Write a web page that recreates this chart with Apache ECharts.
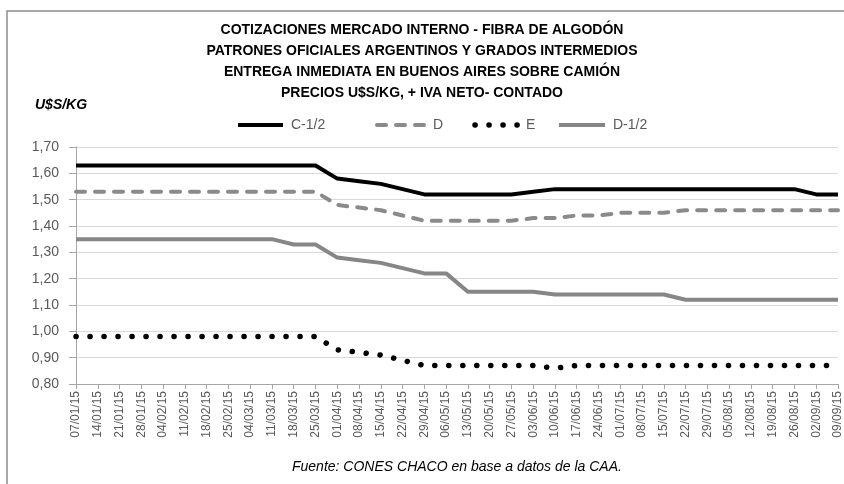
<!DOCTYPE html>
<html>
<head>
<meta charset="utf-8">
<script src="https://cdn.jsdelivr.net/npm/echarts@6/dist/echarts.min.js"></script>
<style>
html,body{margin:0;padding:0;background:#fff;}
#chart{width:844px;height:484px;}
</style>
</head>
<body>
<div id="chart"></div>
<script>
var dates = ['07/01/15','14/01/15','21/01/15','28/01/15','04/02/15','11/02/15','18/02/15','25/02/15','04/03/15','11/03/15','18/03/15','25/03/15','01/04/15','08/04/15','15/04/15','22/04/15','29/04/15','06/05/15','13/05/15','20/05/15','27/05/15','03/06/15','10/06/15','17/06/15','24/06/15','01/07/15','08/07/15','15/07/15','22/07/15','29/07/15','05/08/15','12/08/15','19/08/15','26/08/15','02/09/15','09/09/15'];
var c12 = [1.63,1.63,1.63,1.63,1.63,1.63,1.63,1.63,1.63,1.63,1.63,1.63,1.58,1.57,1.56,1.54,1.52,1.52,1.52,1.52,1.52,1.53,1.54,1.54,1.54,1.54,1.54,1.54,1.54,1.54,1.54,1.54,1.54,1.54,1.52,1.52];
var d = [1.53,1.53,1.53,1.53,1.53,1.53,1.53,1.53,1.53,1.53,1.53,1.53,1.48,1.47,1.46,1.44,1.42,1.42,1.42,1.42,1.42,1.43,1.43,1.44,1.44,1.45,1.45,1.45,1.46,1.46,1.46,1.46,1.46,1.46,1.46,1.46];
var e = [0.98,0.98,0.98,0.98,0.98,0.98,0.98,0.98,0.98,0.98,0.98,0.98,0.93,0.92,0.91,0.89,0.87,0.87,0.87,0.87,0.87,0.87,0.86,0.87,0.87,0.87,0.87,0.87,0.87,0.87,0.87,0.87,0.87,0.87,0.87,0.87];
var d12 = [1.35,1.35,1.35,1.35,1.35,1.35,1.35,1.35,1.35,1.35,1.33,1.33,1.28,1.27,1.26,1.24,1.22,1.22,1.15,1.15,1.15,1.15,1.14,1.14,1.14,1.14,1.14,1.14,1.12,1.12,1.12,1.12,1.12,1.12,1.12,1.12];
var seriesNames = ['C-1/2','D','E','D-1/2'];
var titleLines = ['COTIZACIONES MERCADO INTERNO - FIBRA DE ALGODÓN','PATRONES OFICIALES ARGENTINOS Y GRADOS INTERMEDIOS','ENTREGA INMEDIATA EN BUENOS AIRES SOBRE CAMIÓN','PRECIOS U$S/KG, + IVA NETO- CONTADO'];
var unitLabel = 'U$S/KG';
var sourceText = 'Fuente: CONES CHACO en base a datos de la CAA.';

var FONT = '"Liberation Sans", Arial, sans-serif';
var chart = echarts.init(document.getElementById('chart'), null, {renderer:'canvas'});

var styles = [
  {color:'#000', width:4, type:'solid', cap:'butt'},
  {color:'#8a8a8a', width:4, type:[9,10], cap:'round'},
  {color:'#000', width:5.5, type:[0.1,13.9], cap:'round'},
  {color:'#868686', width:4, type:'solid', cap:'butt'}
];
var seriesData = [c12, d, e, d12];

// legend drawn as graphic (line icons + labels)
var legendX = [238, 377, 475, 559];
var legendW = [45, 48, 43, 46];
var legendY = 125;
var legendGraphics = [];
seriesNames.forEach(function(n, i){
  var s = styles[i];
  legendGraphics.push({type:'line', silent:true,
    shape:{x1:legendX[i], y1:legendY, x2:legendX[i]+legendW[i], y2:legendY},
    style:{stroke:s.color, lineWidth:s.width, lineDash:(s.type==='solid'?null:s.type), lineCap:s.cap}});
  legendGraphics.push({type:'text', silent:true, x:legendX[i]+legendW[i]+8, y:legendY,
    style:{text:n, font:'14px '+FONT, fill:'#595959', verticalAlign:'middle', textAlign:'left'}});
});

var option = {
  animation:false,
  backgroundColor:'#fff',
  title:{
    text: titleLines.join('\n'),
    left:'center', top:15,
    textStyle:{fontFamily:FONT, fontWeight:'bold', fontSize:14, color:'#000', lineHeight:21}
  },
  grid:{left:76, right:6, top:147, bottom:100},
  xAxis:{
    type:'category', data:dates, boundaryGap:false,
    axisLine:{lineStyle:{color:'#a6a6a6', width:1}},
    axisTick:{show:true, alignWithLabel:true, length:5, lineStyle:{color:'#a6a6a6'}},
    axisLabel:{rotate:90, interval:0, fontFamily:FONT, fontSize:12, color:'#595959', margin:7},
    splitLine:{show:false}
  },
  yAxis:{
    type:'value', min:0.8, max:1.7, interval:0.1,
    axisLine:{show:true, lineStyle:{color:'#a6a6a6', width:1}},
    axisTick:{show:true, length:7, lineStyle:{color:'#a6a6a6'}},
    axisLabel:{fontFamily:FONT, fontSize:14, color:'#595959', margin:17,
      formatter:function(v){return v.toFixed(2).replace('.',',');}},
    splitLine:{lineStyle:{color:'#d9d9d9', width:1}}
  },
  series: seriesNames.map(function(n, i){
    var s = styles[i];
    return {name:n, type:'line', data:seriesData[i], symbol:'none', z:(i===0?3:2),
      lineStyle:{color:s.color, width:s.width, type:s.type, cap:s.cap},
      itemStyle:{color:s.color}};
  }),
  graphic:[
    {type:'rect', shape:{x:7, y:11, width:900, height:600}, style:{fill:null, stroke:'#8c8c8c', lineWidth:1.5}, silent:true, z:-1},
    {type:'text', left:35, top:98, style:{text:unitLabel, font:'italic bold 14px '+FONT, fill:'#000'}},
    {type:'text', left:292, top:460, style:{text:sourceText, font:'italic 14px '+FONT, fill:'#000'}}
  ].concat(legendGraphics)
};
chart.setOption(option);
</script>
</body>
</html>
